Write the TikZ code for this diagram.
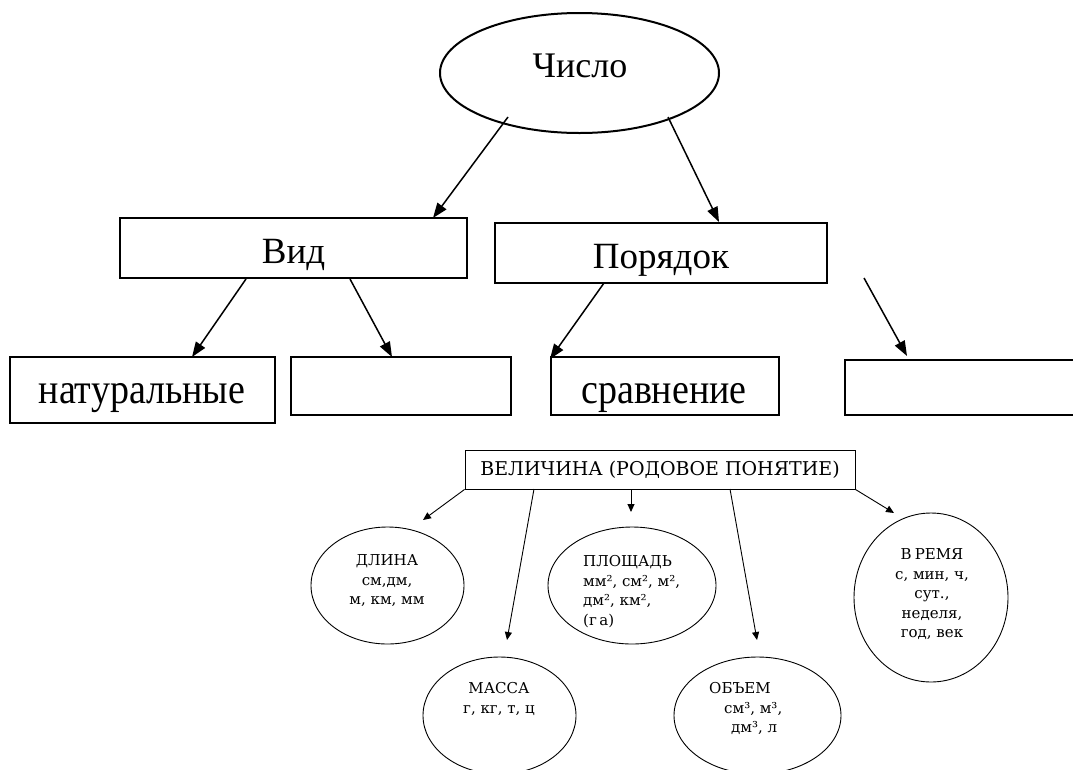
\documentclass[tikz,border=0pt]{standalone}
\usepackage{fontspec}
\setmainfont{Liberation Serif}
\newfontfamily\djs{DejaVu Serif}
\usetikzlibrary{shapes.geometric,arrows.meta}
\begin{document}
\begin{tikzpicture}[x=1pt,y=-1pt,
  bigbox/.style={draw,line width=2pt,inner sep=0pt},
  bigtext/.style={inner sep=0pt,anchor=base,font=\fontsize{37}{40}\selectfont},
  rowtext/.style={inner sep=0pt,anchor=base,font=\fontsize{38}{40}\selectfont},
  bigarrow/.style={line width=1.5pt,-{Triangle[length=15pt,width=11pt]}},
  smallshape/.style={draw,line width=0.9pt,inner sep=0pt},
  smalltext/.style={inner sep=0pt,font=\djs\fontsize{15}{19.5}\selectfont},
  smallarrow/.style={line width=0.9pt,-{Triangle[length=8pt,width=7pt]}}]
\useasboundingbox (0,0) rectangle (1073,769);
% ---------- upper diagram ----------
\node[bigbox,ellipse,minimum width=279pt,minimum height=120pt] (chislo) at (579.5,73) {};
\node[bigbox,minimum width=347pt,minimum height=60pt] (vid) at (293.5,248) {};
\node[bigbox,minimum width=332pt,minimum height=60pt] (poryadok) at (661,252.5) {};
\node[bigbox,minimum width=265pt,minimum height=66pt] (nat) at (142.5,390) {};
\node[bigbox,minimum width=220pt,minimum height=58pt] (empty1) at (401,386) {};
\node[bigbox,minimum width=228pt,minimum height=58pt] (srav) at (665,386) {};
\node[bigbox,minimum width=232pt,minimum height=55pt] (empty2) at (961,387.5) {};
\node[bigtext,font=\fontsize{36}{40}\selectfont] (chislot) at (580,77) {Число};
\node[bigtext] (vidt) at (293.5,263) {Вид};
\node[bigtext] (poryadokt) at (661,268) {Порядок};
\node[rowtext] (natt) at (142,403) {\scalebox{1}[1.12]{натуральные}};
\node[rowtext] (sravt) at (664,403) {\scalebox{1}[1.12]{сравнение}};
\coordinate (c1) at (508,117);
\coordinate (c2) at (668,117);
\coordinate (t1) at (433,218);
\coordinate (t2) at (719,222);
\coordinate (v1) at (246,279);
\coordinate (v2) at (350,279);
\coordinate (t3) at (192,357);
\coordinate (t4) at (392,357);
\coordinate (p1) at (604,283);
\coordinate (t5) at (550,359);
\coordinate (f1) at (864,278);
\coordinate (t6) at (907,356);
\draw[bigarrow] (c1) -- (t1);
\draw[bigarrow] (c2) -- (t2);
\draw[bigarrow] (v1) -- (t3);
\draw[bigarrow] (v2) -- (t4);
\draw[bigarrow] (p1) -- (t5);
\draw[bigarrow] (f1) -- (t6);
% ---------- lower diagram ----------
\node[smallshape,minimum width=390pt,minimum height=39pt,font=\djs\fontsize{19}{22}\selectfont] (vel) at (660,469.5) {ВЕЛИЧИНА (РОДОВОЕ ПОНЯТИЕ)};
\node[smallshape,ellipse,minimum width=153pt,minimum height=117pt] (dlina) at (387.5,585.5) {};
\node[smallshape,ellipse,minimum width=168pt,minimum height=117pt] (ploshad) at (632,585.5) {};
\node[smallshape,ellipse,minimum width=153pt,minimum height=117pt] (massa) at (499.5,715.5) {};
\node[smallshape,ellipse,minimum width=167pt,minimum height=117pt] (obem) at (757.5,715.5) {};
\node[smallshape,ellipse,minimum width=154pt,minimum height=169pt] (vremya) at (931,597.5) {};
\node[smalltext,align=center] (dlinat) at (387,581) {ДЛИНА\\см,дм,\\м, км, мм};
\node[smalltext,align=left,anchor=west] (ploshadt) at (583,591.5) {ПЛОЩАДЬ\\мм², см², м²,\\дм², км²,\\(г\,а)};
\node[smalltext,align=center] (massat) at (499,699) {МАССА\\г, кг, т, ц};
\node[smalltext,align=left,anchor=west] (obemt) at (709,708.5) {ОБЪЕМ\\\hspace*{15pt}см³, м³,\\\hspace*{22pt}дм³, л};
\node[smalltext,align=center] (vremyat) at (932,594.5) {В\hspace{3pt}РЕМЯ\\с, мин, ч,\\сут.,\\неделя,\\год, век};
\coordinate (s1) at (534,489);
\coordinate (s2) at (631,489);
\coordinate (s3) at (730,489);
\coordinate (a1) at (423,520);
\coordinate (a2) at (507,640);
\coordinate (a3) at (631,512);
\coordinate (a4) at (757,640);
\coordinate (a5) at (894,513);
\draw[smallarrow] (vel.south west) -- (a1);
\draw[smallarrow] (s1) -- (a2);
\draw[smallarrow] (s2) -- (a3);
\draw[smallarrow] (s3) -- (a4);
\draw[smallarrow] (vel.south east) -- (a5);
\end{tikzpicture}
\end{document}
